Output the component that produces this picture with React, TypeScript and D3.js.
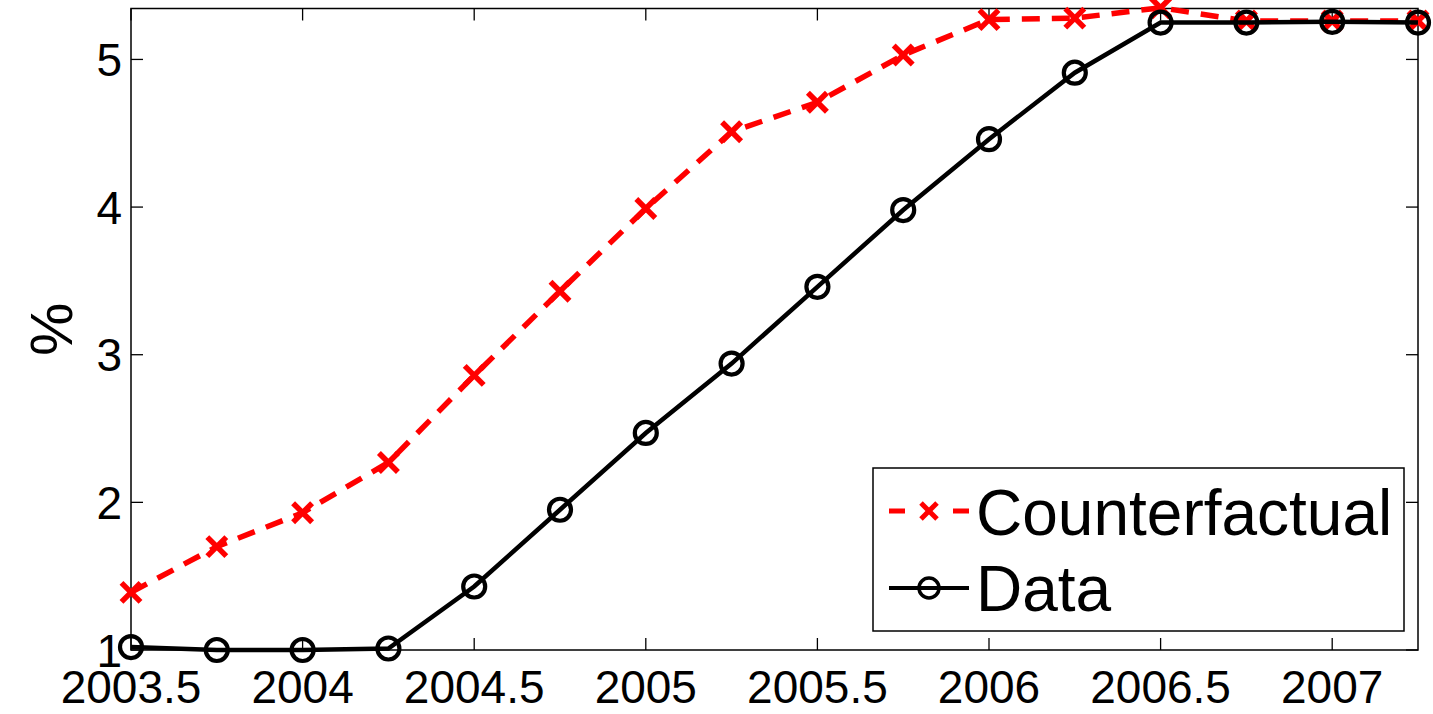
import React from "react";
import * as d3 from "d3";

const dates = [2003.5, 2003.75, 2004, 2004.25, 2004.5, 2004.75, 2005, 2005.25, 2005.5, 2005.75, 2006, 2006.25, 2006.5, 2006.75, 2007, 2007.25];
const dataSeries = [1.02, 1.0, 1.0, 1.01, 1.43, 1.95, 2.47, 2.94, 3.46, 3.98, 4.46, 4.91, 5.25, 5.25, 5.255, 5.25];
const counterfactual = [1.39, 1.7, 1.93, 2.27, 2.86, 3.43, 3.99, 4.51, 4.71, 5.03, 5.27, 5.28, 5.35, 5.26, 5.26, 5.26];
const xTicks = [2003.5, 2004, 2004.5, 2005, 2005.5, 2006, 2006.5, 2007];
const xTickLabels = ["2003.5", "2004", "2004.5", "2005", "2005.5", "2006", "2006.5", "2007"];
const yTicks = [1, 2, 3, 4, 5];
const legendLabels = ["Counterfactual", "Data"];

const W = 1433, H = 714;
const L = 131, R = 1418, T = 8.5, B = 650;
const FONT = "'Liberation Sans', Arial, sans-serif";

export default function App() {
  const x = d3.scaleLinear().domain([2003.5, 2007.25]).range([L, R]);
  const y = d3.scaleLinear().domain([1, 5.345]).range([B, T]);
  const line = d3.line<number>().x((_, i) => x(dates[i])).y((v) => y(v));
  const tick = 12;

  const cross = (cx: number, cy: number, k: string, s = 9.5, sw = 5.5) => (
    <g key={k} stroke="#ff0000" strokeWidth={sw} strokeLinecap="butt">
      <line x1={cx - s} y1={cy - s} x2={cx + s} y2={cy + s} />
      <line x1={cx - s} y1={cy + s} x2={cx + s} y2={cy - s} />
    </g>
  );

  return (
    <svg width={W} height={H} style={{ position: "absolute", left: 0, top: 0, background: "#fff" }} fontFamily={FONT}>
      <rect x={0} y={0} width={W} height={H} fill="#fff" />
      {/* ticks */}
      <g stroke="#000" strokeWidth={1.3}>
        {xTicks.map((t) => (
          <g key={"xt" + t}>
            <line x1={x(t)} x2={x(t)} y1={B} y2={B - tick} />
            <line x1={x(t)} x2={x(t)} y1={T} y2={T + tick} />
          </g>
        ))}
        {yTicks.map((t) => (
          <g key={"yt" + t}>
            <line x1={L} x2={L + tick} y1={y(t)} y2={y(t)} />
            <line x1={R} x2={R - tick} y1={y(t)} y2={y(t)} />
          </g>
        ))}
      </g>
      <rect x={L} y={T} width={R - L} height={B - T} fill="none" stroke="#000" strokeWidth={1.5} />
      {/* tick labels */}
      <g fontSize={46} fill="#000">
        {xTicks.map((t, i) => (
          <text key={"xl" + t} x={x(t)} y={703} textAnchor="middle">{xTickLabels[i]}</text>
        ))}
        {yTicks.map((t) => (
          <text key={"yl" + t} x={122} y={y(t) + 16.5} textAnchor="end">{t}</text>
        ))}
      </g>
      <text transform={`translate(72,${(T + B) / 2}) rotate(-90)`} textAnchor="middle" fontSize={60} fill="#000">%</text>
      {/* counterfactual */}
      <path d={line(counterfactual) || ""} fill="none" stroke="#ff0000" strokeWidth={5.5} strokeDasharray="18,12" />
      {counterfactual.map((v, i) => cross(x(dates[i]), y(v), "c" + i))}
      {/* data */}
      <path d={line(dataSeries) || ""} fill="none" stroke="#000" strokeWidth={4.5} />
      {dataSeries.map((v, i) => (
        <circle key={"d" + i} cx={x(dates[i])} cy={y(v)} r={11} fill="none" stroke="#000" strokeWidth={4.2} />
      ))}
      {/* legend */}
      <rect x={873} y={468} width={531} height={163} fill="#fff" stroke="#000" strokeWidth={1.5} />
      <line x1={889} x2={969} y1={511} y2={511} stroke="#ff0000" strokeWidth={5} strokeDasharray="16,48" />
      {cross(929, 511, "lc", 8, 5)}
      <line x1={889} x2={969} y1={588} y2={588} stroke="#000" strokeWidth={4} />
      <circle cx={929} cy={588} r={10} fill="none" stroke="#000" strokeWidth={3.5} />
      <text x={976} y={535} fontSize={64} fill="#000">{legendLabels[0]}</text>
      <text x={976} y={611} fontSize={64} fill="#000">{legendLabels[1]}</text>
    </svg>
  );
}
